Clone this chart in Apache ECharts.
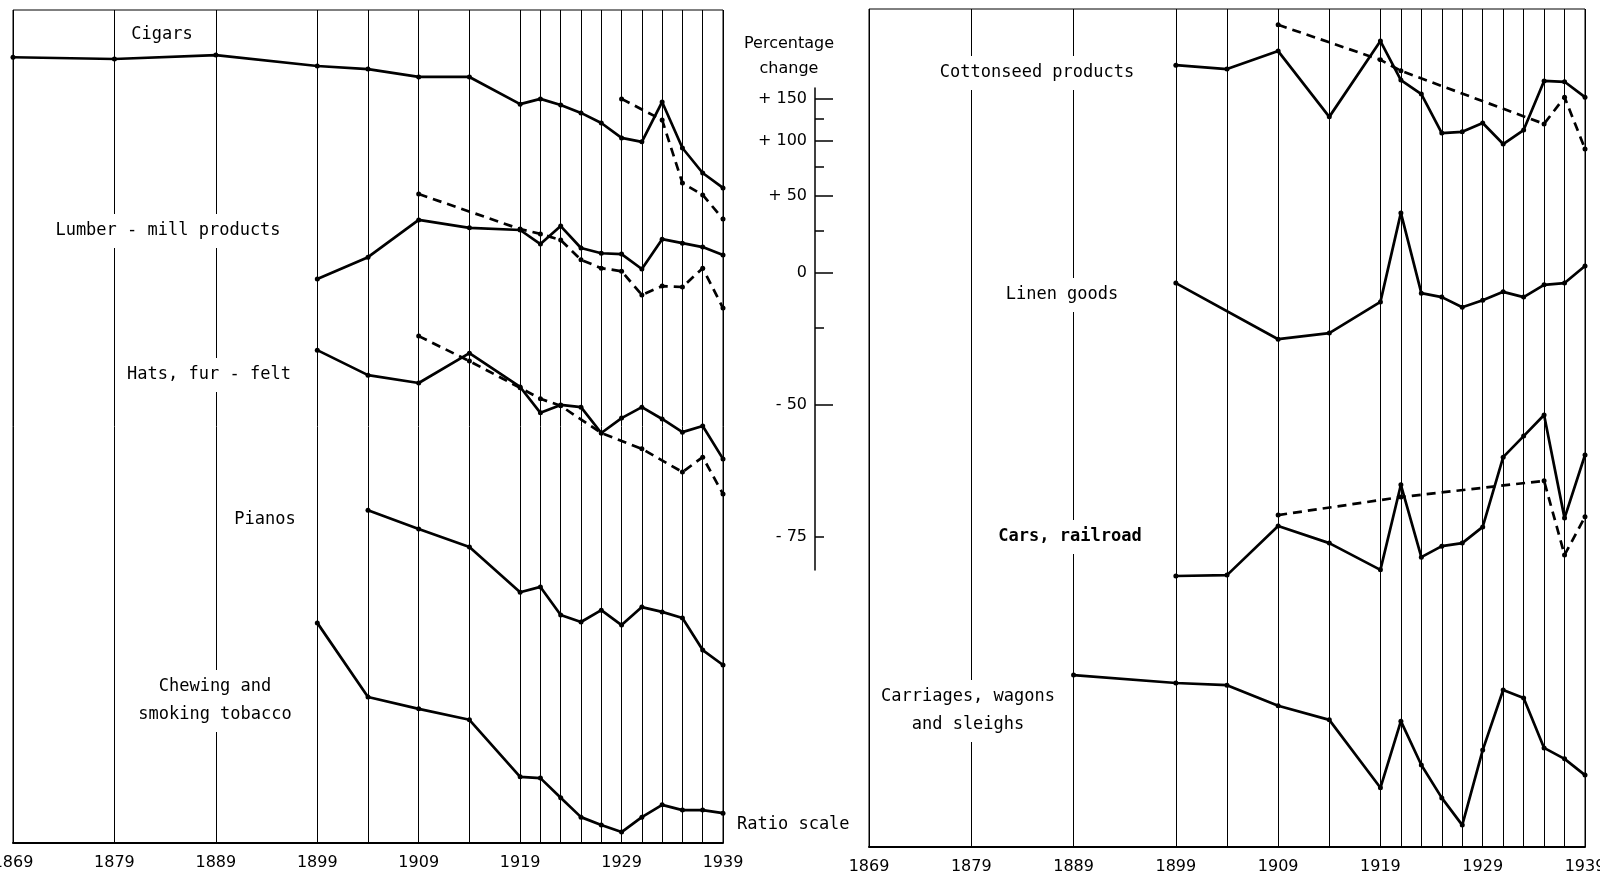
<!DOCTYPE html>
<html>
<head>
<meta charset="utf-8">
<script src="https://cdn.jsdelivr.net/npm/echarts/dist/echarts.min.js"></script>
<style>
  html, body { margin: 0; padding: 0; background: #fff; }
  #chart { width: 1600px; height: 880px; }
</style>
</head>
<body>
<div id="chart"></div>
<script>
// Census years (vertical rulings) and x-axis tick labels
const years = [1869,1879,1889,1899,1904,1909,1914,1919,1921,1923,1925,1927,1929,1931,1933,1935,1937,1939];
const yearLabels = [1869,1879,1889,1899,1909,1919,1929,1939];

const cigars        = [1.792,1.788,1.797,1.772,1.765,1.747,1.747,1.685,1.697,1.683,1.665,1.642,1.608,1.599,1.690,1.585,1.528,1.494];
const cigarsDashed  = [null,null,null,null,null,null,null,null,null,null,null,null,1.697,null,1.649,1.505,1.478,1.423];
const lumber        = [null,null,null,1.286,1.336,1.421,1.403,1.398,1.366,1.407,1.357,1.345,1.343,1.309,1.377,1.368,1.359,1.341];
const lumberDashed  = [null,null,null,null,null,1.480,null,1.400,1.389,1.375,1.330,1.311,1.304,1.250,1.270,1.268,1.311,1.220];
const hats          = [null,null,null,1.124,1.067,1.049,1.117,1.040,0.981,0.999,0.994,0.935,0.969,0.994,0.967,0.937,0.951,0.876];
const hatsDashed    = [null,null,null,null,null,1.156,1.099,1.038,1.013,0.997,null,0.935,null,0.899,null,0.846,0.880,0.796];
const pianos        = [null,null,null,null,0.759,0.716,0.675,0.572,0.584,0.520,0.504,0.531,0.497,0.538,0.527,0.513,0.440,0.406];
const tobacco       = [null,null,null,0.502,0.333,0.306,0.281,0.151,0.148,0.103,0.059,0.041,0.025,0.059,0.087,0.075,0.075,0.068];

const cottonseed       = [null,null,null,1.783,1.774,1.815,1.665,1.838,1.749,1.717,1.628,1.631,1.651,1.603,1.635,1.747,1.745,1.710];
const cottonseedDashed = [null,null,null,null,null,1.875,null,1.795,1.770,null,null,null,null,null,null,1.649,1.710,1.592];
const linen            = [null,null,null,1.286,null,1.158,1.172,1.243,1.446,1.263,1.254,1.231,1.247,1.266,1.254,1.282,1.286,1.325];
const cars             = [null,null,null,0.618,0.620,0.732,0.693,0.632,0.826,0.661,0.686,0.693,0.730,0.889,0.937,0.985,0.750,0.894];
const carsDashed       = [null,null,null,null,null,0.757,null,null,0.798,null,null,null,null,null,null,0.835,0.666,0.753];
const carriages        = [null,null,0.392,0.374,0.369,0.322,0.290,0.135,0.287,0.187,0.112,0.050,0.221,0.358,0.340,0.226,0.201,0.164];

// Percentage-change scale (ratio scale)
const pctMajor  = [150, 100, 50, 0, -50];
const pctMinor  = [125, 75, 25, -25, -75];
const pctLabeled = [150, 100, 50, 0, -50, -75];
const pctText   = ['+ 150', '+ 100', '+ 50', '0', '- 50', '- 75'];

const FONT = '"DejaVu Sans", sans-serif';
const MONO = '"DejaVu Sans Mono", monospace';
const toLog = p => Math.log10(1 + p / 100);

function pairs(arr) { return years.map((y, i) => [y, arr[i]]); }

function lineSeries(name, arr, grid, dashed, extra) {
  return Object.assign({
    name, type: 'line', xAxisIndex: grid, yAxisIndex: grid,
    data: pairs(arr), connectNulls: true,
    symbol: 'circle', symbolSize: 5,
    itemStyle: { color: '#000' },
    lineStyle: { color: '#000', width: 2.7, type: dashed ? [9, 6] : 'solid' },
    z: 3, animation: false, silent: true
  }, extra || {});
}

function rulings() {
  return {
    silent: true, symbol: ['none', 'none'], z: 1, animation: false,
    label: { show: false },
    lineStyle: { color: '#000', width: 1, type: 'solid' },
    data: years.map(y => ({ xAxis: y }))
  };
}

function xAx(grid) {
  return {
    gridIndex: grid, type: 'value', min: 1869, max: 1939,
    axisLine: { show: true, lineStyle: { color: '#000', width: 2 } },
    axisTick: { show: false },
    splitLine: { show: false },
    axisLabel: {
      customValues: yearLabels, color: '#000', fontFamily: FONT, fontSize: 16, margin: 12,
      hideOverlap: false, formatter: v => String(v)
    }
  };
}
function yAx(grid, max) {
  return {
    gridIndex: grid, type: 'value', min: 0, max: max,
    axisLine: { show: false }, axisTick: { show: false },
    axisLabel: { show: false }, splitLine: { show: false }
  };
}

function label(text, x, y, extra) {
  return {
    type: 'text', x: x, y: y, z: 100, silent: true,
    style: Object.assign({
      text: text, font: '17px ' + MONO, fill: '#000',
      align: 'center', verticalAlign: 'middle',
      textAlign: 'center', textVerticalAlign: 'middle',
      backgroundColor: '#fff', padding: [3, 4], lineHeight: 28
    }, extra || {})
  };
}

const chart = echarts.init(document.getElementById('chart'), null, { renderer: 'canvas' });

const option = {
  backgroundColor: '#fff',
  animation: false,
  grid: [
    { left: 13, top: 10, width: 710, height: 833, show: true, borderColor: '#000', borderWidth: 1,
      containLabel: false, outerBoundsMode: 'none' },
    { left: 869, top: 9, width: 716, height: 838, show: true, borderColor: '#000', borderWidth: 1,
      containLabel: false, outerBoundsMode: 'none' },
    { left: 815, top: 88, width: 20, height: 482, show: false, containLabel: false, outerBoundsMode: 'none' }
  ],
  xAxis: [
    xAx(0), xAx(1),
    { gridIndex: 2, type: 'value', min: 0, max: 1, show: false }
  ],
  yAxis: [
    yAx(0, 1.8997), yAx(1, 1.911),
    {
      gridIndex: 2, type: 'value', position: 'left', min: -0.677, max: 0.422,
      axisLine: { show: true, lineStyle: { color: '#000', width: 1.5 } },
      axisTick: { show: true, inside: true, length: 18, customValues: pctMajor.map(toLog),
                  lineStyle: { color: '#000', width: 1.5 } },
      axisLabel: {
        customValues: pctLabeled.map(toLog), color: '#000', fontFamily: FONT, fontSize: 16, margin: 8,
        formatter: v => {
          let best = 0;
          pctLabeled.forEach((p, i) => { if (Math.abs(toLog(p) - v) < Math.abs(toLog(pctLabeled[best]) - v)) best = i; });
          return pctText[best];
        }
      },
      splitLine: { show: false }
    },
    {
      gridIndex: 2, type: 'value', position: 'left', offset: 0, min: -0.677, max: 0.422,
      axisLine: { show: false },
      axisTick: { show: true, inside: true, length: 9, customValues: pctMinor.map(toLog),
                  lineStyle: { color: '#000', width: 1.5 } },
      axisLabel: { show: false },
      splitLine: { show: false }
    }
  ],
  series: [
    lineSeries('Cigars', cigars, 0, false, { markLine: rulings() }),
    lineSeries('Cigars (dashed)', cigarsDashed, 0, true),
    lineSeries('Lumber-mill products', lumber, 0, false),
    lineSeries('Lumber-mill products (dashed)', lumberDashed, 0, true),
    lineSeries('Hats, fur-felt', hats, 0, false),
    lineSeries('Hats, fur-felt (dashed)', hatsDashed, 0, true),
    lineSeries('Pianos', pianos, 0, false),
    lineSeries('Chewing and smoking tobacco', tobacco, 0, false),
    lineSeries('Cottonseed products', cottonseed, 1, false, { markLine: rulings() }),
    lineSeries('Cottonseed products (dashed)', cottonseedDashed, 1, true),
    lineSeries('Linen goods', linen, 1, false),
    lineSeries('Cars, railroad', cars, 1, false),
    lineSeries('Cars, railroad (dashed)', carsDashed, 1, true),
    lineSeries('Carriages, wagons and sleighs', carriages, 1, false)
  ],
  graphic: [
    label('Cigars', 162, 35),
    label('Lumber - mill products', 168, 231),
    label('Hats, fur - felt', 209, 375),
    label('Pianos', 265, 520),
    label('Chewing and\nsmoking tobacco', 215, 701),
    label('Cottonseed products', 1037, 73),
    label('Linen goods', 1062, 295),
    label('Cars, railroad', 1070, 537, { font: 'bold 17px ' + MONO }),
    label('Carriages, wagons\nand sleighs', 968, 711),
    label('Percentage\nchange', 789, 56, { font: '16px ' + FONT, backgroundColor: 'transparent', lineHeight: 25 }),
    label('Ratio scale', 737, 825, { backgroundColor: 'transparent', align: 'left', textAlign: 'left', padding: 0 })
  ]
};

chart.setOption(option);
</script>
</body>
</html>
